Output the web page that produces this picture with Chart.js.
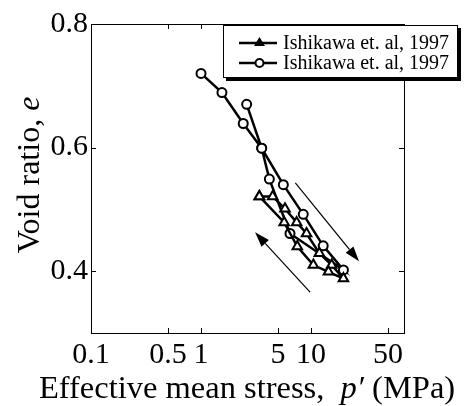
<!DOCTYPE html>
<html>
<head>
<meta charset="utf-8">
<script src="https://cdn.jsdelivr.net/npm/chart.js@4/dist/chart.umd.min.js"></script>
<style>
  html, body { margin: 0; padding: 0; background: #fff; }
  #wrap { width: 465px; height: 406px; }
</style>
</head>
<body>
<div id="wrap"><canvas id="c" width="465" height="406"></canvas></div>
<script>
// --- data ---
const seriesLabels = ['Ishikawa et. al, 1997', 'Ishikawa et. al, 1997'];

// triangles (p' in MPa, void ratio e)
const triP = [3.39, 4.48, 5.8, 7.4, 9.1, 11.9, 15.4, 19.7, 14.4, 10.5, 7.5, 5.7, 3.39];
const triE = [0.521, 0.521, 0.501, 0.479, 0.461, 0.429, 0.410, 0.388, 0.399, 0.410, 0.440, 0.479, 0.521];

// circles
const circP = [1.0, 1.55, 2.42, 3.56, 4.18, 6.44, 19.7, 12.9, 8.5, 5.6, 3.56, 2.6];
const circE = [0.720, 0.689, 0.639, 0.599, 0.549, 0.461, 0.402, 0.441, 0.492, 0.540, 0.599, 0.670];

// axis ticks
const xTicks = [0.1, 0.5, 1, 5, 10, 50];
const xTickLabels = ['0.1', '0.5', '1', '5', '10', '50'];
const yTicks = [0.4, 0.6, 0.8];

// loading / unloading arrows (tail -> head, data coords)
const arrowLoad = [[7.2, 0.543], [27.3, 0.416]];
const arrowUnload = [[9.8, 0.366], [3.1, 0.463]];

const FONT = '"Liberation Serif", "Times New Roman", serif';

function toPoints(ps, es) {
  return ps.map((p, i) => ({ x: p, y: es[i] }));
}

// draw text made of normal/italic pieces, centred on cx
function mixedText(ctx, parts, size, cx, y) {
  let total = 0;
  parts.forEach(pt => { ctx.font = pt[1] + ' ' + size + 'px ' + FONT; total += ctx.measureText(pt[0]).width; });
  let x = cx - total / 2;
  parts.forEach(pt => {
    ctx.font = pt[1] + ' ' + size + 'px ' + FONT;
    ctx.fillText(pt[0], x, y);
    x += ctx.measureText(pt[0]).width;
  });
}

// frame, small inward ticks, axis titles, arrows, legend
const decor = {
  id: 'decor',
  afterDraw(chart) {
    const ctx = chart.ctx;
    const a = chart.chartArea;
    const xs = chart.scales.x, ys = chart.scales.y;
    ctx.save();

    // tick marks on all four sides
    ctx.strokeStyle = '#000';
    ctx.lineWidth = 1;
    ctx.beginPath();
    xTicks.forEach(v => {
      const px = Math.round(xs.getPixelForValue(v)) + 0.5;
      ctx.moveTo(px, a.bottom); ctx.lineTo(px, a.bottom - 5);
      ctx.moveTo(px, a.top); ctx.lineTo(px, a.top + 5);
    });
    yTicks.forEach(v => {
      const py = Math.round(ys.getPixelForValue(v)) + 0.5;
      ctx.moveTo(a.left, py); ctx.lineTo(a.left + 5, py);
      ctx.moveTo(a.right, py); ctx.lineTo(a.right - 5, py);
    });
    ctx.stroke();
    ctx.strokeRect(Math.round(a.left) + 0.5, Math.round(a.top) + 0.5,
      Math.round(a.right - a.left), Math.round(a.bottom - a.top));

    // arrows
    [arrowLoad, arrowUnload].forEach(arr => {
      const x0 = xs.getPixelForValue(arr[0][0]), y0 = ys.getPixelForValue(arr[0][1]);
      const x1 = xs.getPixelForValue(arr[1][0]), y1 = ys.getPixelForValue(arr[1][1]);
      const ang = Math.atan2(y1 - y0, x1 - x0);
      const len = 15, half = 5;
      const bx = x1 - len * Math.cos(ang), by = y1 - len * Math.sin(ang);
      ctx.lineWidth = 1.2;
      ctx.beginPath();
      ctx.moveTo(x0, y0); ctx.lineTo(bx, by);
      ctx.stroke();
      ctx.beginPath();
      ctx.moveTo(x1, y1);
      ctx.lineTo(bx + half * Math.sin(ang), by - half * Math.cos(ang));
      ctx.lineTo(bx - half * Math.sin(ang), by + half * Math.cos(ang));
      ctx.closePath();
      ctx.fillStyle = '#000';
      ctx.fill();
    });

    // axis titles
    ctx.fillStyle = '#000';
    ctx.textBaseline = 'alphabetic';
    ctx.textAlign = 'left';
    mixedText(ctx, [['Effective mean stress,  ', 'normal'], ['p\u2032', 'italic'], [' (MPa)', 'normal']],
      32.5, 247, 398);

    ctx.save();
    ctx.translate(39, 175);
    ctx.rotate(-Math.PI / 2);
    mixedText(ctx, [['Void ratio, ', 'normal'], ['e', 'italic']], 32, 0, 0);
    ctx.restore();

    // legend box with drop shadow
    const lx = 223, ly = 25, lw = 235, lh = 53;
    ctx.fillStyle = '#000';
    ctx.fillRect(lx + 3, ly + 3, lw, lh);
    ctx.fillStyle = '#fff';
    ctx.fillRect(lx, ly, lw, lh);
    ctx.lineWidth = 1;
    ctx.strokeStyle = '#000';
    ctx.strokeRect(lx + 0.5, ly + 0.5, lw - 1, lh - 1);
    chart.data.datasets.forEach((ds, i) => {
      const ry = 43 + i * 20;
      ctx.lineWidth = 2.5;
      ctx.beginPath();
      ctx.moveTo(239, ry); ctx.lineTo(277, ry);
      ctx.stroke();
      ctx.lineWidth = 2;
      ctx.fillStyle = '#fff';
      ctx.beginPath();
      if (ds.pointStyle === 'triangle') {
        ctx.fillStyle = '#000';
        ctx.moveTo(259.5, ry - 6); ctx.lineTo(265, ry + 3); ctx.lineTo(254, ry + 3); ctx.closePath();
        ctx.fill();
      } else {
        ctx.arc(259.5, ry, 4, 0, Math.PI * 2);
        ctx.fill(); ctx.stroke();
      }
      ctx.fillStyle = '#000';
      ctx.font = '20px ' + FONT;
      ctx.textBaseline = 'middle';
      ctx.fillText(ds.label, 283, ry + 1);
    });
    ctx.restore();
  }
};

new Chart(document.getElementById('c'), {
  type: 'scatter',
  data: {
    datasets: [
      {
        label: seriesLabels[0],
        data: toPoints(triP, triE),
        showLine: true,
        borderColor: '#000',
        borderWidth: 2.5,
        pointStyle: 'triangle',
        pointRadius: 5.5,
        pointBorderWidth: 2,
        pointBackgroundColor: '#fff',
        pointBorderColor: '#000',
        order: 1
      },
      {
        label: seriesLabels[1],
        data: toPoints(circP, circE),
        showLine: true,
        borderColor: '#000',
        borderWidth: 2.5,
        pointStyle: 'circle',
        pointRadius: 4.5,
        pointBorderWidth: 2,
        pointBackgroundColor: '#fff',
        pointBorderColor: '#000',
        order: 2
      }
    ]
  },
  options: {
    responsive: false,
    animation: false,
    layout: { padding: { left: 0, top: 24, right: 61, bottom: 0 } },
    plugins: { legend: { display: false }, tooltip: { enabled: false } },
    scales: {
      x: {
        type: 'logarithmic',
        min: 0.1,
        max: 70,
        afterBuildTicks: s => { s.ticks = xTicks.map(v => ({ value: v })); },
        afterFit: s => { s.height = 73; },
        grid: { drawOnChartArea: false, drawTicks: false },
        border: { display: false },
        ticks: {
          autoSkip: false,
          maxRotation: 0,
          padding: 4,
          color: '#000',
          font: { family: FONT, size: 30 },
          callback: (v) => xTickLabels[xTicks.indexOf(v)] ?? ''
        }
      },
      y: {
        min: 0.3,
        max: 0.8,
        afterBuildTicks: s => { s.ticks = yTicks.map(v => ({ value: v })); },
        afterFit: s => { s.width = 91; },
        grid: { drawOnChartArea: false, drawTicks: false },
        border: { display: false },
        ticks: {
          padding: 3,
          color: '#000',
          font: { family: FONT, size: 30 },
          callback: v => v.toFixed(1)
        }
      }
    }
  },
  plugins: [decor]
});
</script>
</body>
</html>
